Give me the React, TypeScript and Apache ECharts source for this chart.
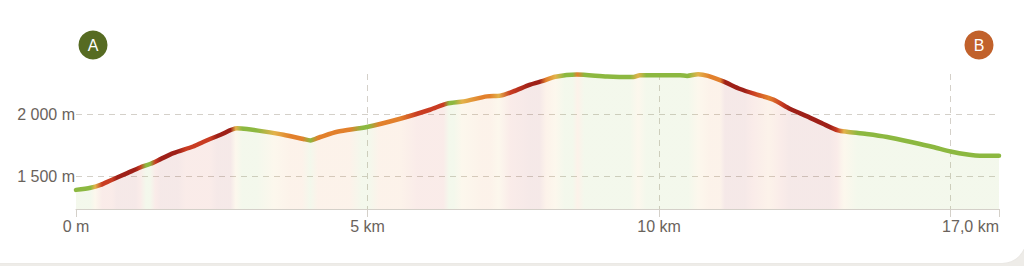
import React, { useEffect, useRef } from "react";
import * as echarts from "echarts";

// Elevation profile: distance (km) and elevation (m)
const distKm = [
  0.0, 0.25, 0.42, 0.59, 0.88, 1.1, 1.28, 1.45, 1.67, 2.01, 2.18, 2.48, 2.76, 2.93, 3.21, 3.56, 3.9, 4.02,
  4.19, 4.48, 4.99, 5.56, 6.07, 6.36, 6.65, 7.05, 7.28, 7.5, 7.79, 8.01, 8.22, 8.59, 9.11, 9.56, 9.67,
  10.36, 10.48, 10.67, 10.84, 11.1, 11.39, 11.68, 11.96, 12.25, 12.54, 12.81, 13.07, 13.22, 13.56, 13.91,
  14.36, 14.7, 15.0, 15.32, 15.5, 15.83,
];
const elevM = [
  1393, 1410, 1433, 1468, 1527, 1572, 1602, 1639, 1687, 1740, 1776, 1834, 1886, 1880, 1861, 1834, 1800, 1789,
  1816, 1858, 1896, 1962, 2034, 2083, 2101, 2141, 2147, 2181, 2235, 2265, 2298, 2316, 2300, 2296, 2310,
  2310, 2305, 2318, 2305, 2261, 2200, 2155, 2115, 2040, 1981, 1922, 1869, 1858, 1840, 1816,
  1772, 1736, 1700, 1674, 1666, 1666,
];

// Steepness colouring along the route: stop position (km) and level (0 flat .. 4 steep)
const gradeStopKm = [
  0.0, 0.25, 0.33, 0.45, 0.62, 0.7, 1.02, 1.1, 1.2, 1.27, 1.36, 1.45, 1.75, 1.88, 2.13, 2.3, 2.42, 2.65,
  2.74, 2.85, 3.1, 3.4, 3.68, 3.88, 4.02, 4.15, 4.7, 4.9, 5.02, 5.2, 5.56, 5.85, 6.3, 6.4, 6.48, 6.62,
  6.95, 7.1, 7.25, 7.45, 7.8, 7.95, 8.06, 8.22, 8.38, 8.52, 8.6, 8.72, 9.5, 9.64, 9.78, 10.5, 10.67,
  10.87, 11.05, 11.13, 11.47, 11.6, 11.88, 12.1, 12.25, 12.93, 13.05, 13.17, 13.4, 15.83,
];
const gradeStopLevel = [
  0, 0, 1, 3, 3, 4, 4, 3, 0, 0, 3, 4, 4, 3, 3, 3, 4, 4,
  1, 0, 0, 1, 2, 2, 0, 2, 2, 0, 0, 2, 2, 3, 3, 0, 0, 1,
  2, 2, 1, 3, 4, 4, 2, 1, 0, 0, 2, 0, 0, 1, 0, 0, 1,
  2, 2, 4, 4, 3, 2, 3, 4, 4, 3, 1, 0, 0,
];
const levelColors = ["#8cb840", "#e3b24a", "#e2802c", "#c93c22", "#9e2018"];

const xAxisMaxKm = 15.83;
const xLabelValues = [0, 5, 10];
const xLabelTexts = ["0 m", "5 km", "10 km"];
const xEndLabel = "17,0 km";

const yMinM = 1240;
const yMaxM = 2320;
const yGridValues = [1500, 2000];
const yGridLabels = ["1 500 m", "2 000 m"];

const markerLetters = ["A", "B"];
const markerColors = ["#566b22", "#c1612b"];

const FONT = "'Liberation Sans', Arial, Helvetica, sans-serif";
const LABEL_COLOR = "#6a635c";
const GRID_COLOR = "#d4d0c9";

function rgba(hex: string, a: number) {
  const n = parseInt(hex.slice(1), 16);
  return `rgba(${(n >> 16) & 255},${(n >> 8) & 255},${n & 255},${a})`;
}

function gradient(alpha: number) {
  const stops = gradeStopKm.map((km, i) => ({
    offset: km / xAxisMaxKm,
    color: rgba(levelColors[gradeStopLevel[i]], alpha),
  }));
  return new echarts.graphic.LinearGradient(0, 0, 1, 0, stops);
}

export default function App() {
  const ref = useRef<HTMLDivElement>(null);

  useEffect(() => {
    if (!ref.current) return;
    const chart = echarts.init(ref.current, undefined, { renderer: "svg" });
    const data = distKm.map((d, i) => [d, elevM[i]]);

    const marker = (i: number, cx: number) => ({
      type: "group",
      children: [
        { type: "circle", shape: { cx, cy: 45, r: 14.5 }, style: { fill: markerColors[i] } },
        {
          type: "text",
          style: {
            text: markerLetters[i],
            x: cx,
            y: 45.5,
            align: "center",
            verticalAlign: "middle",
            fill: "#ffffff",
            fontSize: 16,
            fontWeight: 500,
            fontFamily: FONT,
          },
        },
      ],
    });

    chart.setOption({
      animation: false,
      grid: { left: 76, right: 25, top: 74, bottom: 57 },
      xAxis: {
        type: "value",
        min: 0,
        max: xAxisMaxKm,
        interval: 5,
        axisLine: { show: true, lineStyle: { color: GRID_COLOR, width: 1 } },
        axisTick: { show: true, length: 8, lineStyle: { color: GRID_COLOR } },
        splitLine: {
          show: true,
          showMinLine: false,
          showMaxLine: false,
          lineStyle: { color: GRID_COLOR, type: [6, 5], width: 1 },
        },
        axisLabel: {
          color: LABEL_COLOR,
          fontSize: 16,
          fontFamily: FONT,
          margin: 9,
          showMaxLabel: true,
          alignMaxLabel: "right",
          formatter: (v: number) => {
            const idx = xLabelValues.indexOf(v);
            if (idx >= 0) return xLabelTexts[idx];
            if (Math.abs(v - xAxisMaxKm) < 1e-6) return xEndLabel;
            return "";
          },
        },
      },
      yAxis: {
        type: "value",
        min: yMinM,
        max: yMaxM,
        axisLine: { show: false },
        axisTick: { show: false },
        axisLabel: { show: false },
        splitLine: { show: false },
      },
      graphic: [marker(0, 93), marker(1, 979)],
      series: [
        {
          type: "line",
          data,
          smooth: 0.25,
          showSymbol: false,
          symbol: "none",
          lineStyle: { width: 4.5, color: gradient(1), cap: "round", join: "round" },
          areaStyle: { color: gradient(0.1), opacity: 1 },
          markLine: {
            silent: true,
            symbol: "none",
            lineStyle: { color: GRID_COLOR, type: [6, 5], width: 1 },
            label: {
              show: true,
              position: "start",
              distance: 1,
              color: LABEL_COLOR,
              fontSize: 16,
              fontFamily: FONT,
            },
            data: yGridValues.map((v, i) => ({
              yAxis: v,
              label: { formatter: yGridLabels[i] },
            })),
            z: 1,
          },
        },
      ],
    });
    return () => chart.dispose();
  }, []);

  return (
    <div
      style={{
        position: "fixed",
        left: 0,
        top: 0,
        width: 1024,
        height: 266,
        background: "#eeece8",
        overflow: "hidden",
      }}
    >
      <div
        style={{
          position: "absolute",
          left: -30,
          top: -30,
          width: 1056,
          height: 293,
          background: "#ffffff",
          borderRadius: 24,
          boxShadow: "0 0 2px rgba(0,0,0,0.06)",
        }}
      />
      <div ref={ref} style={{ position: "absolute", left: 0, top: 0, width: 1024, height: 266 }} />
    </div>
  );
}
